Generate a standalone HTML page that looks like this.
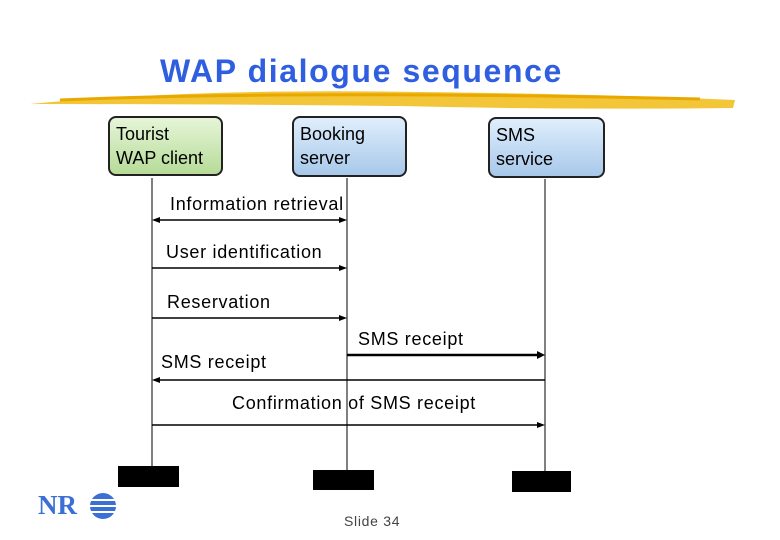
<!DOCTYPE html>
<html><head><style>
body{margin:0;background:#fff;}
.w{position:relative;width:780px;height:540px;overflow:hidden;font-family:"Liberation Sans",sans-serif;}
.t{position:absolute;font-size:18px;color:#000;white-space:nowrap;letter-spacing:0.7px;}
.box{position:absolute;border:2px solid #222;border-radius:8px;font-size:18px;line-height:24px;padding:4px 6px;box-sizing:border-box;}
</style></head><body><div class="w">
<div class="t" style="left:160px;top:53px;font-size:32px;font-weight:bold;color:#2f5ee0;letter-spacing:1.6px;">WAP dialogue sequence</div>
<svg width="780" height="540" style="position:absolute;left:0;top:0">
<path d="M30 104 Q200 88 420 92 Q600 94 735 100 L733 108 Q560 110 400 106 Q200 104 30 104Z" fill="#f2c024" opacity="0.9"/>
<path d="M60 100 Q300 90 700 99" stroke="#e8a800" stroke-width="3" fill="none"/>
<g stroke="#000" stroke-width="1">
<line x1="152" y1="178" x2="152" y2="467"/>
<line x1="347" y1="178" x2="347" y2="471"/>
<line x1="545" y1="179" x2="545" y2="472"/>
<line x1="158" y1="220" x2="341" y2="220" stroke-width="1.5"/>
<line x1="152" y1="268" x2="341" y2="268" stroke-width="1.5"/>
<line x1="152" y1="318" x2="341" y2="318" stroke-width="1.5"/>
<line x1="347" y1="355" x2="539" y2="355" stroke-width="2.5"/>
<line x1="158" y1="380" x2="545" y2="380" stroke-width="1.5"/>
<line x1="152" y1="425" x2="539" y2="425" stroke-width="1.5"/>
</g>
<g fill="#000">
<path d="M152 220 l8 -3 v6z"/><path d="M347 220 l-8 -3 v6z"/>
<path d="M347 268 l-8 -3 v6z"/><path d="M347 318 l-8 -3 v6z"/>
<path d="M545 355 l-8 -4 v8z"/><path d="M152 380 l8 -3 v6z"/>
<path d="M545 425 l-8 -3 v6z"/>
<rect x="118" y="466" width="61" height="21"/>
<rect x="313" y="470" width="61" height="20"/>
<rect x="512" y="471" width="59" height="21"/>
</g>
<g fill="#3b6fd6">
<circle cx="103" cy="506" r="13"/>
</g>
<g stroke="#fff" stroke-width="2"><line x1="88" y1="500" x2="118" y2="500"/><line x1="88" y1="506" x2="118" y2="506"/><line x1="88" y1="512" x2="118" y2="512"/></g>
</svg>
<div class="box" style="left:108px;top:116px;width:115px;height:60px;background:linear-gradient(#e6f5d8,#b6dc98);">Tourist<br>WAP client</div>
<div class="box" style="left:292px;top:116px;width:115px;height:61px;background:linear-gradient(#dfeefc,#a8c8ea);">Booking<br>server</div>
<div class="box" style="left:488px;top:117px;width:117px;height:61px;background:linear-gradient(#dfeefc,#a8c8ea);">SMS<br>service</div>
<div class="t" style="left:170px;top:194px;">Information retrieval</div>
<div class="t" style="left:166px;top:242px;">User identification</div>
<div class="t" style="left:167px;top:292px;">Reservation</div>
<div class="t" style="left:358px;top:329px;">SMS receipt</div>
<div class="t" style="left:161px;top:352px;">SMS receipt</div>
<div class="t" style="left:232px;top:393px;">Confirmation of SMS receipt</div>
<div class="t" style="left:38px;top:490px;font-family:'Liberation Serif',serif;font-weight:bold;font-size:27px;color:#3b6fd6;letter-spacing:0;">NR</div>
<div class="t" style="left:344px;top:513px;font-size:14px;color:#444;">Slide 34</div>
</div></body></html>
